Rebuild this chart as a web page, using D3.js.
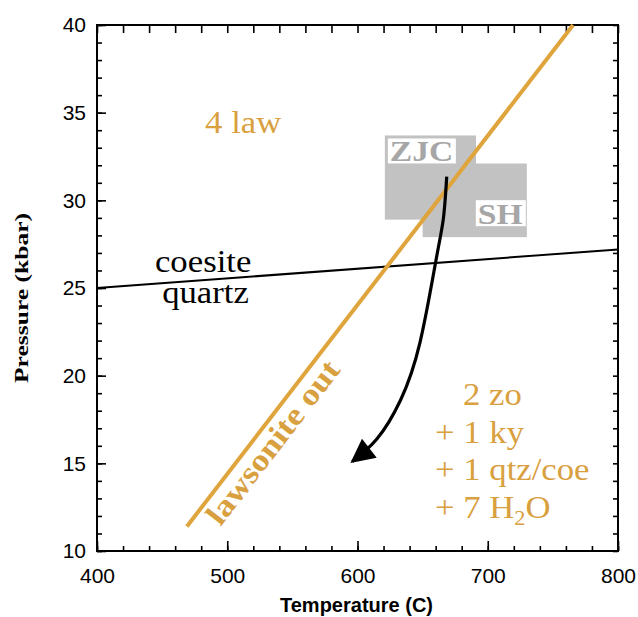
<!DOCTYPE html>
<html>
<head>
<meta charset="utf-8">
<script src="https://cdn.jsdelivr.net/npm/d3@7"></script>
<style>
  body { margin: 0; background: #fff; }
  svg { display: block; }
</style>
</head>
<body>
<svg id="chart" width="638" height="617"></svg>
<script>
// Axis ranges and ticks
const tempDomain = [400, 800];
const pressureDomain = [10, 40];
const tempTicks = [400, 500, 600, 700, 800];
const pressureTicks = [10, 15, 20, 25, 30, 35, 40];
const tempMinorStep = 20;
const pressureMinorStep = 1;

// Reaction boundaries (T in °C, P in kbar)
const lawsoniteOutT = [469, 765.5];
const lawsoniteOutP = [11.4, 40];
const coesiteQuartzT = [400, 800];
const coesiteQuartzP = [25.0, 27.2];

// Peak P-T estimates
const peakBoxNames = ["ZJC", "SH"];
const peakBoxT = [[621, 691], [650, 730]];
const peakBoxP = [[28.9, 33.7], [27.9, 32.1]];

// Retrograde P-T path
const pathT = [668.5, 666, 660.3, 648, 633, 615, 596];
const pathP = [31.35, 29, 26.6, 21.9, 18.6, 16.4, 15.1];

// Field labels
const reactantLabel = "4 law";
const productLines = ["2 zo", "+ 1 ky", "+ 1 qtz/coe", "+ 7 H"];

const W = 638, H = 617;
const plot = { left: 97, right: 618, top: 25, bottom: 551 };
const ORANGE = "#DFA43C";
const ORANGE_TEXT = "#D9A040";
const SERIF = "'Liberation Serif','Times New Roman',serif";
const SANS = "'Liberation Sans',Arial,Helvetica,sans-serif";
const SX = 1.12; // horizontal stretch of serif lettering

const svg = d3.select("#chart");

const x = d3.scaleLinear().domain(tempDomain).range([plot.left, plot.right]);
const y = d3.scaleLinear().domain(pressureDomain).range([plot.bottom, plot.top]);

const tempMinor = d3.range(tempDomain[0], tempDomain[1] + 1, tempMinorStep);
const pressureMinor = d3.range(pressureDomain[0], pressureDomain[1] + 1, pressureMinorStep);

// ---- peak boxes ----
const boxes = peakBoxNames.map((name, i) => ({
  name, t0: peakBoxT[i][0], t1: peakBoxT[i][1], p0: peakBoxP[i][0], p1: peakBoxP[i][1]
}));
svg.append("g").selectAll("rect").data(boxes).join("rect")
  .attr("x", d => x(d.t0)).attr("y", d => y(d.p1))
  .attr("width", d => x(d.t1) - x(d.t0)).attr("height", d => y(d.p0) - y(d.p1))
  .attr("fill", "#C2C2C2");

// box name tags
function boxTag(d, corner) {
  const g = svg.append("g");
  let rx, ry, rw = corner === "tl" ? 68 : 50, rh = corner === "tl" ? 25 : 26;
  if (corner === "tl") { rx = x(d.t0) + 3; ry = y(d.p1) + 3; }
  else { rx = x(d.t1) - rw - 1; ry = y(d.p0) - rh - 11; }
  g.append("rect").attr("x", rx).attr("y", ry).attr("width", rw).attr("height", rh).attr("fill", "#fff");
  g.append("text")
    .attr("transform", `translate(${rx + 2},${ry + rh - 2}) scale(${SX},1)`)
    .attr("font-family", SERIF).attr("font-size", 30).attr("font-weight", "bold")
    .attr("fill", "#A6A6A6").text(d.name);
}
boxTag(boxes[0], "tl");
boxTag(boxes[1], "br");

// ---- axes ----
const axisFont = g => g.selectAll("text").attr("font-family", SANS).attr("font-size", 21).attr("fill", "#000");
const styleAxis = g => {
  g.select(".domain").remove();
  g.selectAll("line").attr("stroke", "#000").attr("stroke-width", 1.6);
};

// minor ticks
svg.append("g").attr("transform", `translate(0,${plot.bottom})`)
  .call(d3.axisBottom(x).tickValues(tempMinor).tickSize(-5).tickFormat(""))
  .call(styleAxis);
svg.append("g").attr("transform", `translate(0,${plot.top})`)
  .call(d3.axisTop(x).tickValues(tempMinor).tickSize(-8).tickFormat(""))
  .call(styleAxis);
svg.append("g").attr("transform", `translate(${plot.left},0)`)
  .call(d3.axisLeft(y).tickValues(pressureMinor).tickSize(-5).tickFormat(""))
  .call(styleAxis);
svg.append("g").attr("transform", `translate(${plot.right},0)`)
  .call(d3.axisRight(y).tickValues(pressureMinor).tickSize(-5).tickFormat(""))
  .call(styleAxis);

// major ticks with labels
svg.append("g").attr("transform", `translate(0,${plot.bottom})`)
  .call(d3.axisBottom(x).tickValues(tempTicks).tickSize(-10).tickPadding(17).tickFormat(d3.format("d")))
  .call(styleAxis).call(axisFont);
svg.append("g").attr("transform", `translate(${plot.left},0)`)
  .call(d3.axisLeft(y).tickValues(pressureTicks).tickSize(-9).tickPadding(11).tickFormat(d3.format("d")))
  .call(styleAxis).call(axisFont);

// frame
svg.append("rect")
  .attr("x", plot.left).attr("y", plot.top)
  .attr("width", plot.right - plot.left).attr("height", plot.bottom - plot.top)
  .attr("fill", "none").attr("stroke", "#000").attr("stroke-width", 2);

// axis titles
svg.append("text")
  .attr("x", (plot.left + plot.right) / 2 - 1).attr("y", 612)
  .attr("text-anchor", "middle").attr("font-family", SANS).attr("font-size", 20).attr("font-weight", "bold")
  .text("Temperature (C)");
svg.append("text")
  .attr("transform", `translate(28,${(plot.top + plot.bottom) / 2 + 10}) rotate(-90)`)
  .attr("text-anchor", "middle").attr("font-family", SERIF).attr("font-size", 19).attr("font-weight", "bold")
  .attr("textLength", 170).attr("lengthAdjust", "spacingAndGlyphs")
  .text("Pressure (kbar)");

// ---- reaction lines ----
const line = d3.line().x(d => x(d[0])).y(d => y(d[1]));
svg.append("path")
  .datum(coesiteQuartzT.map((t, i) => [t, coesiteQuartzP[i]]))
  .attr("d", line).attr("fill", "none").attr("stroke", "#000").attr("stroke-width", 2);
const lawPts = lawsoniteOutT.map((t, i) => [t, lawsoniteOutP[i]]);
svg.append("path")
  .datum(lawPts)
  .attr("d", line).attr("fill", "none").attr("stroke", ORANGE).attr("stroke-width", 4);

// ---- P-T path with arrow ----
const defs = svg.append("defs");
defs.append("marker")
  .attr("id", "head").attr("viewBox", "0 0 10 10").attr("refX", 9).attr("refY", 5)
  .attr("markerUnits", "userSpaceOnUse").attr("markerWidth", 26).attr("markerHeight", 24)
  .attr("orient", "auto")
  .append("path").attr("d", "M0,0 L10,5 L0,10 Z").attr("fill", "#000");
svg.append("path")
  .datum(pathT.map((t, i) => [t, pathP[i]]))
  .attr("d", d3.line().x(d => x(d[0])).y(d => y(d[1])).curve(d3.curveNatural))
  .attr("fill", "none").attr("stroke", "#000").attr("stroke-width", 3.2)
  .attr("marker-end", "url(#head)");

// ---- field labels ----
function serifText(px, py, str, size, fill, weight) {
  return svg.append("text")
    .attr("transform", `translate(${px},${py}) scale(${SX},1)`)
    .attr("font-family", SERIF).attr("font-size", size)
    .attr("font-weight", weight || "normal").attr("fill", fill).text(str);
}

serifText(x(483), y(33.84), reactantLabel, 31, ORANGE_TEXT);
serifText(x(444.5), y(25.91), "coesite", 31, "#000");
serifText(x(450), y(24.14), "quartz", 31, "#000");

// product list
const prodX = [x(681), x(659.5), x(659.5), x(659.5)];
const prodBase = y(18.33);
productLines.forEach((s, i) => {
  const t = serifText(prodX[i], prodBase + i * 37.7, s, 31, ORANGE_TEXT);
  if (i === productLines.length - 1) {
    t.append("tspan").attr("font-size", 20).attr("dy", 7).text("2");
    t.append("tspan").attr("dy", -7).text("O");
  }
});

// "lawsonite out" along the boundary
const p0 = [x(lawPts[0][0]), y(lawPts[0][1])];
const p1 = [x(lawPts[1][0]), y(lawPts[1][1])];
const len = Math.hypot(p1[0] - p0[0], p1[1] - p0[1]);
const u = [(p1[0] - p0[0]) / len, (p1[1] - p0[1]) / len];
const n = [-u[1], u[0]];
const ang = Math.atan2(u[1], u[0]) * 180 / Math.PI;
const along = 20, off = 27;
const sx = p0[0] + u[0] * along + n[0] * off;
const sy = p0[1] + u[1] * along + n[1] * off;
svg.append("text")
  .attr("transform", `translate(${sx},${sy}) rotate(${ang})`)
  .attr("font-family", SERIF).attr("font-size", 31).attr("font-weight", "bold")
  .attr("fill", ORANGE_TEXT)
  .attr("textLength", 198).attr("lengthAdjust", "spacingAndGlyphs")
  .text("lawsonite out");
</script>
</body>
</html>
